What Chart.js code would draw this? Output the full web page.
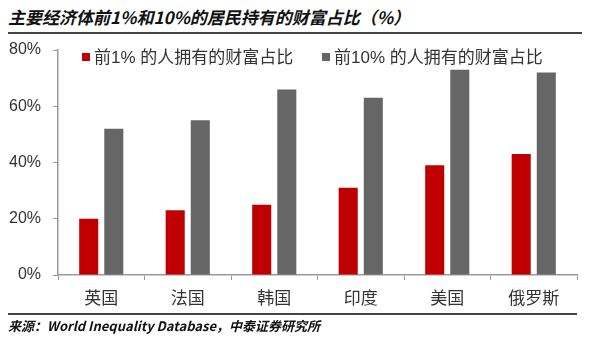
<!DOCTYPE html>
<html>
<head>
<meta charset="utf-8">
<script src="https://cdn.jsdelivr.net/npm/chart.js@4/dist/chart.umd.min.js"></script>
<style>
  body { margin: 0; width: 590px; height: 350px; background: #fff; position: relative; overflow: hidden; }
  #chart { position: absolute; left: 0; top: 0; }
  .title { position: absolute; left: 8px; top: 4px; font: italic bold 17px "Noto Sans CJK SC", sans-serif; line-height: 26px; color: #111; white-space: nowrap; }
  .rule { position: absolute; left: 8px; height: 2px; background: #444; }
  .source { position: absolute; left: 8px; top: 316px; font: italic bold 13px "Noto Sans CJK SC", sans-serif; color: #111; white-space: nowrap; }
</style>
</head>
<body>
<div class="title">主要经济体前1%和10%的居民持有的财富占比（%）</div>
<div class="rule" style="top:32px;width:574px"></div>
<canvas id="chart" width="590" height="350"></canvas>
<div class="rule" style="top:313px;width:569px"></div>
<div class="source">来源：World Inequality Database，中泰证券研究所</div>
<script>
let categories = ['英国', '法国', '韩国', '印度', '美国', '俄罗斯'];
let top1 = [20, 23, 25, 31, 39, 43];
let top10 = [52, 55, 66, 63, 73, 72];
let series_labels = ['前1% 的人拥有的财富占比', '前10% 的人拥有的财富占比'];
let y_ticks = [0, 20, 40, 60, 80];

let font_family = '"Liberation Sans", "Noto Sans CJK SC", sans-serif';

// legend drawn inside the plot area, like the original
let insideLegend = {
    id: 'insideLegend',
    afterDraw: function (chart) {
        let ctx = chart.ctx;
        let xs = [82, 322];
        ctx.save();
        ctx.font = '17px ' + font_family;
        ctx.textBaseline = 'middle';
        chart.data.datasets.forEach(function (ds, i) {
            ctx.fillStyle = ds.backgroundColor;
            ctx.fillRect(xs[i], 53, 8, 8);
            ctx.fillStyle = '#333';
            ctx.fillText(ds.label, xs[i] + 12, 58);
        });
        ctx.restore();
    }
};

new Chart(document.getElementById('chart'), {
    type: 'bar',
    data: {
        labels: categories,
        datasets: [{
            label: series_labels[0],
            data: top1,
            backgroundColor: '#c00000',
            categoryPercentage: 0.58,
            barPercentage: 0.76
        }, {
            label: series_labels[1],
            data: top10,
            backgroundColor: '#666666',
            categoryPercentage: 0.58,
            barPercentage: 0.76
        }]
    },
    options: {
        responsive: false,
        animation: false,
        layout: { padding: { left: 0, top: 50, right: 13, bottom: 40 } },
        plugins: {
            legend: { display: false },
            tooltip: { enabled: false }
        },
        scales: {
            x: {
                grid: { drawOnChartArea: false, drawTicks: true, tickLength: 5, color: '#999', offset: true },
                border: { color: '#999', width: 1.5 },
                ticks: { color: '#333', padding: 9, font: { size: 17, family: font_family } },
                afterFit: function (scale) { scale.height = 35; }
            },
            y: {
                min: 0,
                max: 80,
                afterBuildTicks: function (scale) {
                    scale.ticks = y_ticks.map(function (v) { return { value: v }; });
                },
                grid: { drawOnChartArea: false, drawTicks: true, tickLength: 5, color: '#999' },
                border: { color: '#999', width: 1.5 },
                ticks: {
                    color: '#333',
                    padding: 12,
                    font: { size: 16, family: font_family },
                    callback: function (v) { return v + '%'; }
                },
                afterFit: function (scale) { scale.width = 58; }
            }
        }
    },
    plugins: [insideLegend]
});
</script>
</body>
</html>
